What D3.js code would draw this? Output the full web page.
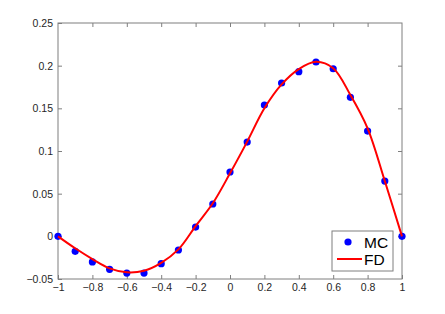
<!DOCTYPE html>
<html>
<head>
<meta charset="utf-8">
<script src="https://cdn.jsdelivr.net/npm/d3@7"></script>
<style>
  body { margin: 0; background: #fff; }
  svg text { font-family: "Liberation Sans", Arial, sans-serif; }
</style>
</head>
<body>
<svg id="chart" width="445" height="314"></svg>
<script>
// data
const mcX = [-1, -0.9, -0.8, -0.7, -0.6, -0.5, -0.4, -0.3, -0.2, -0.1, 0, 0.1, 0.2, 0.3, 0.4, 0.5, 0.6, 0.7, 0.8, 0.9, 1];
const mcY = [0, -0.0176, -0.030, -0.0387, -0.043, -0.043, -0.032, -0.016, 0.0109, 0.0379, 0.0754, 0.1105, 0.1539, 0.1797, 0.193, 0.2043, 0.1964, 0.1629, 0.1234, 0.0648, 0];
const fdX = [-1, -0.9, -0.8, -0.7, -0.6, -0.5, -0.4, -0.3, -0.2, -0.1, 0, 0.1, 0.2, 0.3, 0.4, 0.5, 0.6, 0.7, 0.8, 0.9, 1];
const fdY = [0, -0.014, -0.0266, -0.0375, -0.0422, -0.0403, -0.031, -0.0153, 0.012, 0.0387, 0.0738, 0.111, 0.150, 0.178, 0.196, 0.2045, 0.197, 0.1656, 0.1266, 0.0648, 0];
const xTicks = [-1, -0.8, -0.6, -0.4, -0.2, 0, 0.2, 0.4, 0.6, 0.8, 1];
const yTicks = [-0.05, 0, 0.05, 0.1, 0.15, 0.2, 0.25];
const legendLabels = ['MC', 'FD'];

const margin = { top: 23, right: 43, bottom: 35, left: 58 }
    , width = 445 - margin.left - margin.right
    , height = 314 - margin.top - margin.bottom;

const svg = d3.select('#chart');
const g = svg.append('g')
    .attr('transform', 'translate(' + margin.left + ',' + margin.top + ')');

const xScale = d3.scaleLinear().domain([-1, 1]).range([0, width]);
const yScale = d3.scaleLinear().domain([-0.05, 0.25]).range([height, 0]);

const axisColor = '#7f7f7f';
const textColor = '#262626';

function styleAxis(sel, showText) {
    sel.select('.domain').remove();
    sel.selectAll('line').attr('stroke', axisColor);
    sel.selectAll('text')
        .attr('fill', textColor)
        .style('font-size', '10.5px')
        .style('display', showText ? null : 'none');
}

// bottom and left with labels, top and right ticks only (box on)
g.append('g')
    .attr('transform', 'translate(0,' + height + ')')
    .call(d3.axisBottom(xScale).tickValues(xTicks).tickSize(-4).tickPadding(5).tickFormat(d3.format('')))
    .call(s => styleAxis(s, true));
g.append('g')
    .call(d3.axisTop(xScale).tickValues(xTicks.slice(1, -1)).tickSize(-4))
    .call(s => styleAxis(s, false));
g.append('g')
    .call(d3.axisLeft(yScale).tickValues(yTicks).tickSize(-4).tickPadding(5).tickFormat(d3.format('')))
    .call(s => styleAxis(s, true));
g.append('g')
    .attr('transform', 'translate(' + width + ',0)')
    .call(d3.axisRight(yScale).tickValues(yTicks.slice(1, -1)).tickSize(-4))
    .call(s => styleAxis(s, false));

g.append('rect')
    .attr('width', width)
    .attr('height', height)
    .attr('fill', 'none')
    .attr('stroke', axisColor)
    .attr('stroke-width', 1);

// FD curve
const fdData = fdX.map((x, i) => ({ x: x, y: fdY[i] }));
const line = d3.line()
    .x(d => xScale(d.x))
    .y(d => yScale(d.y))
    .curve(d3.curveCatmullRom.alpha(0.5));
// MC markers first, line over them like matlab draws later series on top
const mcData = mcX.map((x, i) => ({ x: x, y: mcY[i] }));
g.selectAll('.mc')
    .data(mcData)
    .enter().append('circle')
    .attr('class', 'mc')
    .attr('cx', d => xScale(d.x))
    .attr('cy', d => yScale(d.y))
    .attr('r', 3.6)
    .attr('fill', '#0000ff');

g.append('path')
    .datum(fdData)
    .attr('d', line)
    .attr('fill', 'none')
    .attr('stroke', '#ff0000')
    .attr('stroke-width', 2);

// legend
const lg = svg.append('g').attr('transform', 'translate(332,231)');
lg.append('rect')
    .attr('width', 61)
    .attr('height', 40)
    .attr('fill', '#fff')
    .attr('stroke', axisColor);
lg.append('circle').attr('cx', 16).attr('cy', 11).attr('r', 3.6).attr('fill', '#0000ff');
lg.append('line').attr('x1', 5).attr('x2', 30).attr('y1', 28).attr('y2', 28)
    .attr('stroke', '#ff0000').attr('stroke-width', 2);
lg.selectAll('.lab')
    .data(legendLabels)
    .enter().append('text')
    .attr('class', 'lab')
    .attr('x', 32)
    .attr('y', (d, i) => 11 + i * 17)
    .attr('dy', '0.36em')
    .attr('fill', '#000')
    .style('font-size', '15.5px')
    .text(d => d);
</script>
</body>
</html>
